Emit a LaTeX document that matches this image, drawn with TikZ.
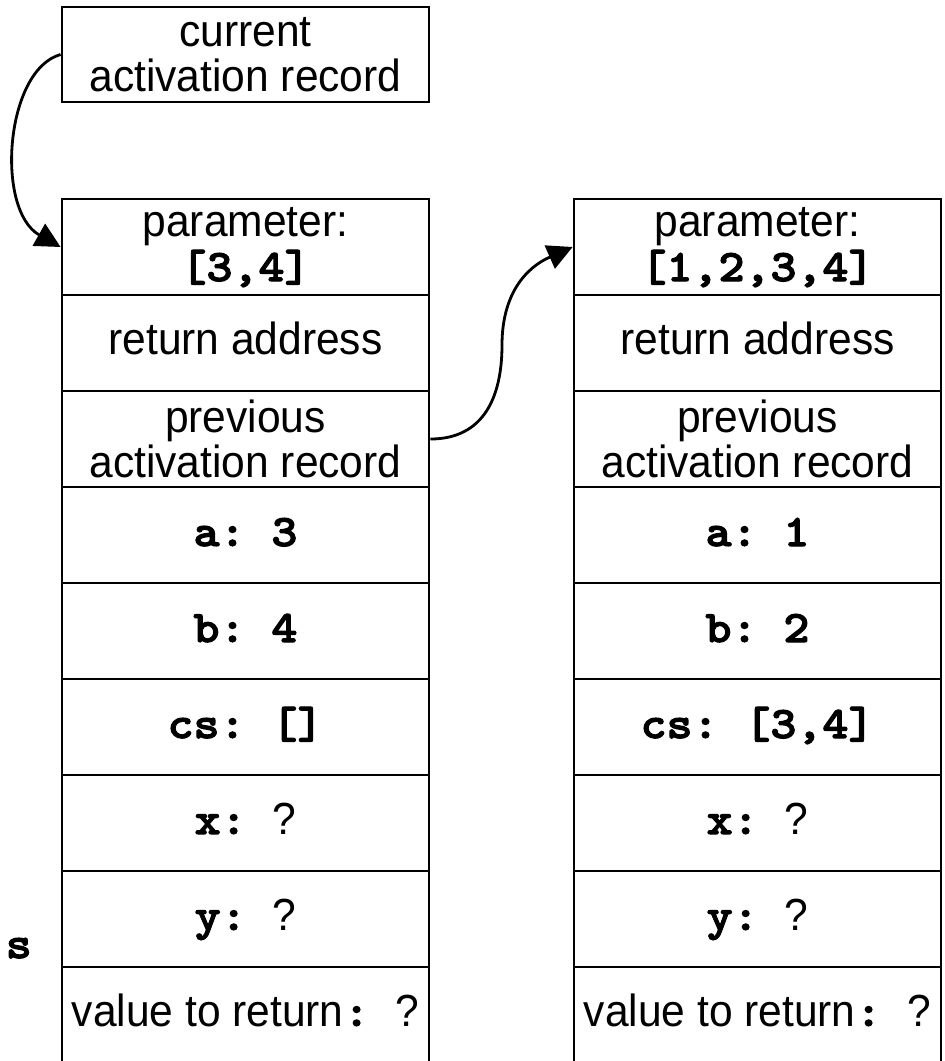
\documentclass[tikz,border=0pt]{standalone}
\usepackage{fontspec}
% narrowed sans for the prose labels
\setmainfont{Liberation Sans}[FakeStretch=0.945]
% slab-serif typewriter, widened to a 0.6em advance and thickened
\newfontfamily\codefont[FakeStretch=1.10, FakeBold=2.5]{lmmonolt10-bold.otf}
\usetikzlibrary{arrows.meta}
% program text in bold typewriter
\newcommand{\code}[1]{{\codefont #1}}
\begin{document}
\frenchspacing
\begin{tikzpicture}[x=1pt,y=-1pt,
  every node/.style={font=\fontsize{45}{45}\selectfont\frenchspacing},
  cell/.style={draw, line width=2.8pt, minimum width=367pt, minimum height=96pt,
               inner sep=0pt, align=center},
  oneline/.style={text height=33pt, text depth=11pt},
  link/.style={line width=2.8pt, -{Triangle[length=25pt,width=25pt]}}]
\useasboundingbox (0,0) rectangle (945,1061);
\clip (0,0) rectangle (945,1061);

% pointer to the current record
\node[cell, minimum height=95pt] (cur) at (245.5,54.5) {current\\activation record};

% activation record of the inner call
\node[cell] (L1) at (245.5,247) {parameter:\\\code{[3,4]}};
\node[cell, oneline] (L2) at (245.5,343) {return address};
\node[cell] (L3) at (245.5,439) {previous\\activation record};
\node[cell, oneline] (L4) at (245.5,535) {\code{a: 3}};
\node[cell, oneline] (L5) at (245.5,631) {\code{b: 4}};
\node[cell, oneline] (L6) at (245.5,727) {\code{cs: []}};
\node[cell, oneline] (L7) at (245.5,823) {\code{x: }?};
\node[cell, oneline] (L8) at (245.5,919) {\code{y: }?};
\node[cell, oneline] (L9) at (245.5,1015) {value to return\code{: }?};

% activation record of the outer call
\node[cell] (R1) at (757.5,247) {parameter:\\\code{[1,2,3,4]}};
\node[cell, oneline] (R2) at (757.5,343) {return address};
\node[cell] (R3) at (757.5,439) {previous\\activation record};
\node[cell, oneline] (R4) at (757.5,535) {\code{a: 1}};
\node[cell, oneline] (R5) at (757.5,631) {\code{b: 2}};
\node[cell, oneline] (R6) at (757.5,727) {\code{cs: [3,4]}};
\node[cell, oneline] (R7) at (757.5,823) {\code{x: }?};
\node[cell, oneline] (R8) at (757.5,919) {\code{y: }?};
\node[cell, oneline] (R9) at (757.5,1015) {value to return\code{: }?};

% label running off the left edge
\node[anchor=base east, inner sep=0pt] (side) at (32,958) {\code{s}};

% links between records
\draw[link] (cur.west) .. controls (5,70) and (-5,210) .. (L1.west);
\coordinate (bend) at (502,345);
\draw[link] (L3.east) .. controls (485,439) and (502,395) .. (bend)
  .. controls (502,295) and (525,268) .. (R1.west);
\end{tikzpicture}
\end{document}
